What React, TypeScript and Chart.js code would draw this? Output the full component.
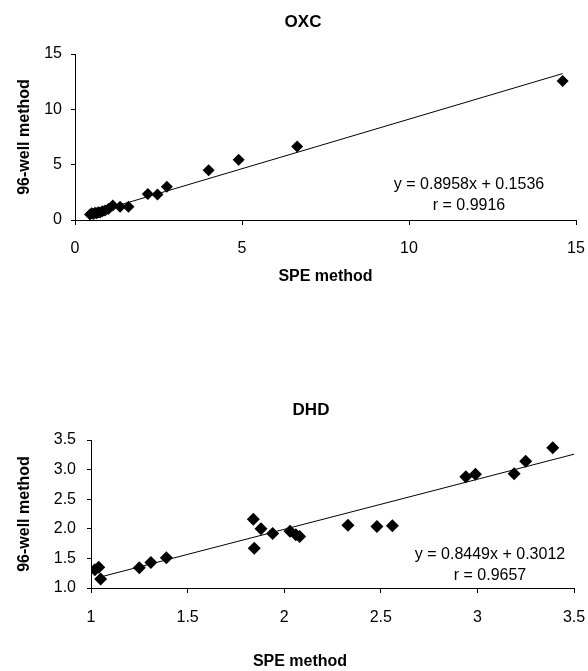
import React, { useEffect, useRef } from "react";
import { Chart, registerables } from "chart.js";

Chart.register(...registerables);

const FONT = "'Liberation Sans', Arial, Helvetica, sans-serif";

// ---- OXC panel data ----
const oxcSpe = [0.45, 0.5, 0.55, 0.6, 0.65, 0.7, 0.75, 0.82, 0.9, 1.0, 1.13, 1.35, 1.6, 2.18, 2.47, 2.75, 4.0, 4.9, 6.65, 14.6];
const oxcWell = [0.5, 0.62, 0.55, 0.66, 0.6, 0.7, 0.68, 0.8, 0.85, 1.0, 1.3, 1.2, 1.2, 2.35, 2.3, 3.0, 4.5, 5.45, 6.65, 12.55];
const oxcTrendX = [0.45, 14.6];
const oxcTrendY = [0.56, 13.23];
const oxcXTicks = ["0", "5", "10", "15"];
const oxcYTicks = ["0", "5", "10", "15"];
const oxcEquation = ["y = 0.8958x + 0.1536", "r = 0.9916"];

// ---- DHD panel data ----
const dhdSpe = [1.02, 1.04, 1.05, 1.25, 1.31, 1.39, 1.84, 1.845, 1.88, 1.94, 2.03, 2.06, 2.08, 2.33, 2.48, 2.56, 2.94, 2.99, 3.19, 3.25, 3.39];
const dhdWell = [1.31, 1.35, 1.15, 1.34, 1.43, 1.51, 2.16, 1.67, 2.0, 1.92, 1.96, 1.9, 1.87, 2.06, 2.04, 2.05, 2.88, 2.92, 2.93, 3.14, 3.37];
const dhdTrendX = [1.03, 3.5];
const dhdTrendY = [1.17, 3.26];
const dhdXTicks = ["1", "1.5", "2", "2.5", "3", "3.5"];
const dhdYTicks = ["1.0", "1.5", "2.0", "2.5", "3.0", "3.5"];
const dhdEquation = ["y = 0.8449x + 0.3012", "r = 0.9657"];

const X_TITLE = "SPE method";
const Y_TITLE = "96-well method";

const annotPlugin = {
  id: "annot",
  afterDraw(chart: any, _args: any, opts: any) {
    const ctx = chart.ctx;
    ctx.save();
    ctx.fillStyle = "#000";
    ctx.textAlign = "center";
    ctx.textBaseline = "middle";
    ctx.font = `bold 17px ${FONT}`;
    ctx.fillText(opts.title, opts.titleX, opts.titleY);
    if (opts.xTitleX != null) {
      ctx.font = `bold 16px ${FONT}`;
      ctx.fillText(X_TITLE, opts.xTitleX, opts.xTitleY);
    }
    ctx.font = `16px ${FONT}`;
    (opts.lines as string[]).forEach((t, i) => {
      ctx.fillText(t, opts.linesX, opts.linesY + i * opts.lineGap);
    });
    ctx.restore();
  },
};

type PanelProps = {
  xs: number[];
  ys: number[];
  tx: number[];
  ty: number[];
  xTicks: string[];
  yTicks: string[];
  xMin: number;
  xMax: number;
  xStep: number;
  yMin: number;
  yMax: number;
  yStep: number;
  title: string;
  lines: string[];
  height: number;
  padTop: number;
  padRight: number;
  yWidth: number;
  xHeight: number;
  yTickPad: number;
  xTickPad: number;
  xTitlePadBottom: number;
  pointR: number;
  titleX: number;
  titleY: number;
  linesX: number;
  linesY: number;
  xTitleX?: number;
  xTitleY?: number;
};

function Panel(p: PanelProps) {
  const ref = useRef<HTMLCanvasElement>(null);
  useEffect(() => {
    if (!ref.current) return;
    const customXTitle = p.xTitleX != null;
    const chart = new Chart(ref.current, {
      type: "scatter",
      data: {
        datasets: [
          {
            data: p.xs.map((x, i) => ({ x, y: p.ys[i] })),
            pointStyle: "rectRot",
            pointRadius: p.pointR,
            pointBackgroundColor: "#000",
            pointBorderColor: "#000",
            pointBorderWidth: 0,
            showLine: false,
          },
          {
            data: p.tx.map((x, i) => ({ x, y: p.ty[i] })),
            showLine: true,
            borderColor: "#000",
            borderWidth: 1,
            pointRadius: 0,
            fill: false,
          },
        ],
      },
      options: {
        animation: false,
        responsive: false,
        devicePixelRatio: 1,
        layout: { padding: { top: p.padTop, right: p.padRight, left: 0, bottom: 0 } },
        plugins: {
          legend: { display: false },
          tooltip: { enabled: false },
          title: { display: false },
          annot: {
            title: p.title,
            titleX: p.titleX,
            titleY: p.titleY,
            lines: p.lines,
            linesX: p.linesX,
            linesY: p.linesY,
            lineGap: 21,
            xTitleX: p.xTitleX,
            xTitleY: p.xTitleY,
          },
        } as any,
        scales: {
          x: {
            type: "linear",
            min: p.xMin,
            max: p.xMax,
            afterFit: (s: any) => {
              s.height = p.xHeight;
              s.paddingLeft = 0;
              s.paddingRight = 0;
            },
            ticks: {
              stepSize: p.xStep,
              color: "#000",
              font: { family: FONT, size: 16 },
              padding: p.xTickPad,
              maxRotation: 0,
              callback: (_v: any, i: number) => p.xTicks[i],
            },
            grid: { drawOnChartArea: false, drawTicks: true, tickLength: 5, color: "#000" },
            border: { display: true, color: "#000", width: 1 },
            title: {
              display: !customXTitle,
              text: X_TITLE,
              color: "#000",
              font: { family: FONT, size: 16, weight: "bold" },
              padding: { top: 0, bottom: p.xTitlePadBottom },
            },
          },
          y: {
            type: "linear",
            min: p.yMin,
            max: p.yMax,
            afterFit: (s: any) => {
              s.width = p.yWidth;
            },
            ticks: {
              stepSize: p.yStep,
              color: "#000",
              font: { family: FONT, size: 16 },
              padding: p.yTickPad,
              callback: (_v: any, i: number) => p.yTicks[i],
            },
            grid: { drawOnChartArea: false, drawTicks: true, tickLength: 4, color: "#000" },
            border: { display: true, color: "#000", width: 1 },
            title: {
              display: true,
              text: Y_TITLE,
              color: "#000",
              font: { family: FONT, size: 16, weight: "bold" },
              padding: { top: 15, bottom: 0 },
            },
          },
        },
      },
      plugins: [annotPlugin as any],
    });
    return () => chart.destroy();
  }, []);
  return <canvas ref={ref} width={588} height={p.height} style={{ display: "block" }} />;
}

export default function App() {
  return (
    <div style={{ position: "fixed", left: 0, top: 0, width: 588, height: 671, background: "#fff", overflow: "hidden" }}>
      <div style={{ position: "absolute", left: 0, top: 0 }}>
        <Panel
          xs={oxcSpe}
          ys={oxcWell}
          tx={oxcTrendX}
          ty={oxcTrendY}
          xTicks={oxcXTicks}
          yTicks={oxcYTicks}
          xMin={0}
          xMax={15}
          xStep={5}
          yMin={0}
          yMax={15}
          yStep={5}
          title="OXC"
          lines={oxcEquation}
          height={300}
          padTop={54}
          padRight={12}
          yWidth={75}
          xHeight={80}
          yTickPad={9}
          xTickPad={14}
          xTitlePadBottom={14}
          pointR={6}
          titleX={303}
          titleY={22}
          linesX={469}
          linesY={185}
        />
      </div>
      <div style={{ position: "absolute", left: 0, top: 380 }}>
        <Panel
          xs={dhdSpe}
          ys={dhdWell}
          tx={dhdTrendX}
          ty={dhdTrendY}
          xTicks={dhdXTicks}
          yTicks={dhdYTicks}
          xMin={1}
          xMax={3.5}
          xStep={0.5}
          yMin={1}
          yMax={3.5}
          yStep={0.5}
          title="DHD"
          lines={dhdEquation}
          height={291}
          padTop={60}
          padRight={14}
          yWidth={91}
          xHeight={83}
          yTickPad={11}
          xTickPad={15}
          xTitlePadBottom={0}
          pointR={6.5}
          titleX={311}
          titleY={30}
          linesX={490}
          linesY={174.5}
          xTitleX={300}
          xTitleY={282}
        />
      </div>
    </div>
  );
}
